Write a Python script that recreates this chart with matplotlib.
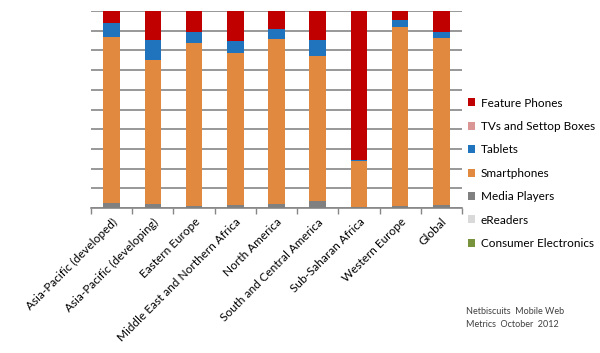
import numpy as np
import matplotlib
matplotlib.use("Agg")
import matplotlib.pyplot as plt

regions = ['Asia-Pacific (developed)', 'Asia-Pacific (developing)', 'Eastern Europe',
           'Middle East and Northern Africa', 'North America', 'South and Central America',
           'Sub-Saharan Africa', 'Western Europe', 'Global']

# percentages, stacked bottom to top
consumer_electronics = [0.0, 0.0, 0.0, 0.0, 0.0, 0.0, 0.0, 0.0, 0.0]
ereaders = [0.0, 0.0, 0.0, 0.0, 0.0, 0.0, 0.0, 0.0, 0.0]
media_players = [2.4, 2.0, 1.0, 1.5, 2.0, 3.6, 0.3, 0.8, 1.5]
smartphones = [84.6, 73.0, 83.0, 77.4, 83.8, 73.6, 23.7, 91.2, 84.9]
tablets = [7.0, 10.3, 5.5, 5.9, 4.9, 8.1, 0.4, 3.4, 3.1]
tvs_settop = [0.0, 0.0, 0.0, 0.0, 0.0, 0.0, 0.0, 0.0, 0.0]
feature_phones = [6.0, 14.7, 10.5, 15.2, 9.3, 14.7, 75.6, 4.6, 10.5]

series = [
    ('Consumer Electronics', consumer_electronics, '#77933C'),
    ('eReaders', ereaders, '#D9D9D9'),
    ('Media Players', media_players, '#808080'),
    ('Smartphones', smartphones, '#E0893F'),
    ('Tablets', tablets, '#1F74BD'),
    ('TVs and Settop Boxes', tvs_settop, '#D99694'),
    ('Feature Phones', feature_phones, '#C00000'),
]

plt.rcParams['font.family'] = ['Lato', 'DejaVu Sans']

fig = plt.figure(figsize=(6, 3.53), dpi=100)
ax = fig.add_axes([91/600, 1 - 208/353, (462 - 91)/600, (208 - 11)/353])

x = np.arange(len(regions))
bottom = np.zeros(len(regions))
handles = []
for name, vals, col in series:
    vals = np.array(vals)
    b = ax.bar(x, vals, width=0.4, bottom=bottom, color=col, label=name, zorder=3)
    handles.append(b)
    bottom += vals

ax.set_xlim(-0.5, len(regions) - 0.5)
ax.set_ylim(0, 100)
ax.set_yticks(np.arange(0, 101, 10))
ax.yaxis.grid(True, color='#868686', linewidth=1.2, zorder=0)
ax.tick_params(axis='y', length=0, labelleft=False)

ax.set_xticks(x)
ax.set_xticklabels(regions, rotation=45, ha='right', rotation_mode='anchor', fontsize=8.5)
ax.set_xticks(np.arange(-0.5, len(regions)), minor=True)
ax.tick_params(axis='x', which='major', length=0, pad=6)
ax.tick_params(axis='x', which='minor', length=4, color='#868686', width=1)

for s in ['top', 'right', 'left']:
    ax.spines[s].set_visible(False)
ax.spines['bottom'].set_color('#868686')
ax.spines['bottom'].set_linewidth(1.2)

fig.legend(handles[::-1], [s[0] for s in series][::-1], loc='upper left',
           bbox_to_anchor=(464/600, 1 - 94/353), frameon=False, fontsize=8.5,
           handlelength=0.65, handleheight=0.65, handletextpad=0.45, labelspacing=1.05,
           borderaxespad=0, borderpad=0.3)

fig.text(466/600, 1 - 318/353, 'Netbiscuits  Mobile Web\nMetrics  October  2012',
         fontsize=6.5, color='#404040', va='center', linespacing=1.5)

fig.savefig('out.png', dpi=100)
